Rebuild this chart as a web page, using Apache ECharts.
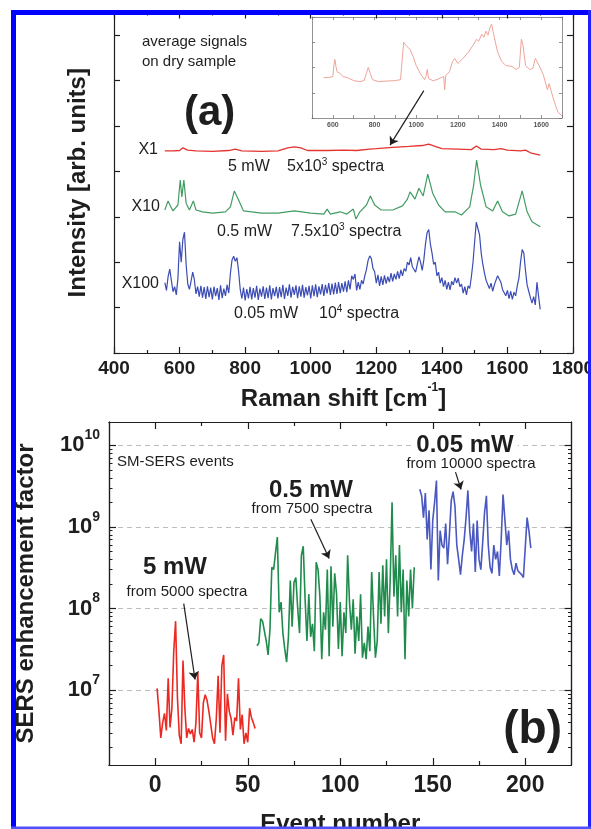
<!DOCTYPE html>
<html>
<head>
<meta charset="utf-8">
<title>SERS spectra and enhancement factors</title>
<script src="https://cdn.jsdelivr.net/npm/echarts@6.0.0/dist/echarts.min.js"></script>
<style>
  html, body { margin: 0; padding: 0; background: #fff; }
  #main { width: 591px; height: 829px; }
</style>
</head>
<body>
<div id="main"></div>
<script>
// ---- panel (a): averaged spectra, [Raman shift, intensity] (arb. units, offset per trace) ----
var spectrumX1 = [
  [555,44.5],[580,44.5],[600,44.6],[610,45.2],[615,44.9],[625,44.7],[650,44.5],[700,44.4],[750,44.6],[770,44.9],
  [790,44.5],[850,44.4],[900,44.5],[930,45.2],[950,45.4],[970,45.2],[990,44.6],[1050,44.6],[1100,44.7],[1140,44.6],
  [1180,44.9],[1200,45.0],[1250,45.3],[1300,45.5],[1340,45.7],[1360,46.0],[1375,45.6],[1400,45.0],[1450,44.9],[1490,44.8],
  [1505,45.6],[1520,44.9],[1560,44.8],[1580,45.0],[1600,44.7],[1640,44.5],[1655,44.7],[1670,44.1],[1700,43.6]
];
var spectrumX10 = [
  [555,31.5],[565,33.5],[572,32.4],[580,31.3],[595,32.6],[602,38.1],[607,34.4],[613,38.1],[620,33.0],[630,31.5],
  [642,33.5],[650,31.5],[670,31.1],[700,30.8],[740,31.1],[755,32.2],[767,35.7],[780,33.7],[795,31.3],[850,30.8],
  [900,30.8],[950,31.3],[1000,30.8],[1040,30.6],[1050,31.7],[1060,30.6],[1090,31.1],[1110,30.6],[1130,31.7],[1138,29.5],
  [1150,31.1],[1170,32.6],[1182,34.6],[1195,32.6],[1215,31.5],[1250,31.5],[1280,32.4],[1295,33.9],[1303,35.5],[1318,33.9],
  [1330,36.3],[1343,34.6],[1357,39.4],[1372,35.2],[1390,32.6],[1410,31.1],[1440,31.1],[1460,30.4],[1485,32.2],[1497,37.0],
  [1506,42.5],[1518,37.0],[1535,32.2],[1555,31.3],[1570,33.5],[1585,31.1],[1605,30.2],[1625,30.6],[1645,35.7],[1660,31.1],
  [1675,28.9],[1700,27.8]
];
var spectrumX100 = [
  [555,15.5],[560,13.8],[565,16.8],[570,18.5],[575,16.0],[580,13.5],[585,14.6],[590,12.8],[595,16.5],[600,24.5],
  [605,20.0],[610,25.0],[615,26.6],[620,19.5],[625,15.2],[630,14.0],[635,15.8],[640,17.8],[645,16.2],[650,13.0],
  [655,14.6],[660,12.4],[665,14.8],[670,12.2],[675,14.5],[680,11.9],[685,14.7],[690,12.3],[695,14.4],[700,11.8],
  [705,14.6],[710,12.5],[715,14.3],[720,11.7],[725,14.9],[730,12.1],[735,14.2],[740,12.6],[745,15.0],[750,13.2],
  [755,17.5],[760,20.5],[765,21.3],[770,20.2],[775,21.0],[780,18.0],[785,14.0],[790,12.0],[795,14.4],[800,11.6],
  [805,14.1],[810,12.0],[815,14.6],[820,11.8],[825,14.3],[830,12.2],[835,14.8],[840,11.7],[845,14.2],[850,12.4],
  [855,14.7],[860,11.9],[865,14.4],[870,12.1],[875,14.9],[880,11.8],[885,14.3],[890,12.5],[895,14.6],[900,12.0],
  [905,14.5],[910,12.3],[915,15.0],[920,11.9],[925,14.4],[930,12.6],[935,15.1],[940,12.2],[945,14.6],[950,12.8],
  [955,14.9],[960,12.1],[965,14.7],[970,12.4],[975,15.0],[980,12.2],[985,14.5],[990,12.7],[995,14.8],[1000,12.0],
  [1005,14.9],[1010,12.5],[1015,15.1],[1020,12.3],[1025,14.7],[1030,12.9],[1035,15.2],[1040,12.6],[1045,15.0],[1050,13.1],
  [1055,15.4],[1060,12.8],[1065,15.3],[1070,12.9],[1075,15.5],[1080,13.0],[1085,15.6],[1090,13.2],[1095,15.4],[1100,13.5],
  [1105,15.8],[1110,13.4],[1115,16.0],[1120,14.0],[1125,17.0],[1130,16.2],[1135,17.4],[1140,13.8],[1145,15.6],[1150,14.0],
  [1155,16.0],[1160,15.2],[1165,17.0],[1170,18.4],[1175,20.4],[1180,21.4],[1185,20.8],[1190,18.6],[1195,17.9],[1200,15.4],
  [1205,17.2],[1210,14.8],[1215,16.9],[1220,15.0],[1225,17.1],[1230,15.3],[1235,16.8],[1240,15.6],[1245,17.6],[1250,15.8],
  [1255,17.4],[1260,16.2],[1265,18.0],[1270,16.4],[1275,18.3],[1280,17.0],[1285,18.6],[1290,18.0],[1295,20.0],[1300,19.4],
  [1305,21.0],[1310,19.0],[1315,18.4],[1320,17.8],[1325,19.5],[1330,21.2],[1335,20.0],[1340,18.2],[1345,20.5],[1350,24.0],
  [1355,26.5],[1360,27.2],[1365,24.0],[1370,22.0],[1375,19.5],[1380,20.0],[1385,17.0],[1390,17.8],[1395,15.4],[1400,16.6],
  [1405,14.6],[1410,16.0],[1415,14.0],[1420,15.6],[1425,13.9],[1430,15.8],[1435,15.0],[1440,16.6],[1445,15.4],[1450,16.5],
  [1455,14.6],[1460,15.2],[1465,13.2],[1470,14.6],[1475,12.8],[1480,14.8],[1485,14.2],[1490,16.8],[1495,20.0],[1500,24.5],
  [1505,28.8],[1510,29.2],[1515,26.0],[1520,22.0],[1525,19.5],[1530,17.6],[1535,16.0],[1540,15.6],[1545,14.2],[1550,15.4],
  [1555,13.6],[1560,15.0],[1565,14.6],[1570,17.0],[1575,17.4],[1580,15.6],[1585,14.0],[1590,14.4],[1595,12.6],[1600,13.8],
  [1605,12.0],[1610,13.6],[1615,11.8],[1620,13.4],[1625,12.6],[1630,14.8],[1635,16.5],[1640,20.0],[1645,22.8],[1650,22.0],
  [1655,18.2],[1660,15.0],[1665,13.6],[1670,12.2],[1675,11.0],[1680,12.4],[1685,10.6],[1690,15.6],[1695,12.5],[1700,9.6]
];
// inset: X1 trace magnified
var insetX1 = [
  [555,40],[580,40],[600,41],[605,52],[610,58],[615,51],[620,46],[635,44],[650,41],[670,40],
  [700,37],[730,36],[750,37],[762,45],[770,50],[780,44],[790,38],[820,36],[850,36.5],[900,37],
  [925,38],[935,63],[940,75],[955,71],[970,68],[985,61],[1000,52],[1020,44],[1040,38],[1048,42],
  [1053,48],[1060,39],[1080,37],[1100,38],[1120,40],[1132,41],[1137,28],[1142,42],[1160,46],[1175,56],
  [1185,59],[1200,54],[1220,58],[1250,65],[1270,71],[1290,78],[1300,76],[1315,83],[1325,80],[1335,86],
  [1345,82],[1355,90],[1362,93],[1375,80],[1390,66],[1410,56],[1430,52],[1460,51],[1480,48],[1495,50],
  [1505,78],[1512,73],[1525,52],[1545,48],[1560,49],[1572,59],[1590,52],[1610,43],[1630,28],[1638,34],
  [1645,33],[1660,18],[1680,6],[1700,2]
];

// ---- panel (b): SERS enhancement factor per event ----
var eventStart5mW = 1;
var ef5mW = [
  1.05e7, 5.5e6, 2.6e6, 4.0e6, 5.2e6, 3.2e6, 1.4e7, 3.5e6, 6.0e6, 3.0e7,
  7.0e7, 8.0e6, 2.8e6, 2.2e6, 2.3e7, 6.0e6, 2.6e6, 3.4e6, 2.9e6, 3.3e6,
  2.3e6, 4.0e6, 1.65e7, 3.0e6, 2.6e6, 7.0e6, 8.8e6, 7.5e6, 5.5e6, 3.8e6,
  2.6e6, 2.2e6, 4.5e6, 1.5e7, 3.0e6, 2.0e7, 2.7e7, 2.4e6, 9.0e6, 5.5e6,
  4.5e6, 2.8e6, 4.6e6, 4.2e6, 1.4e7, 3.3e6, 5.0e6, 2.2e6, 3.0e6, 2.3e6,
  6.0e6, 4.6e6, 4.0e6, 3.4e6
];
var eventStart05mW = 55;
var ef05mW = [
  3.5e7, 3.8e7, 7.5e7, 7.0e7, 7.2e7, 4.0e7, 2.7e7, 5.5e7, 3.2e8, 3.0e8,
  4.8e8, 7.5e8, 9.0e7, 1.2e8, 5.0e7, 3.2e7, 2.2e7, 4.5e7, 2.2e8, 6.0e7,
  2.1e8, 2.4e8, 1.0e8, 5.0e7, 4.5e8, 5.8e8, 1.3e8, 4.0e7, 1.5e8, 4.5e7,
  6.5e7, 3.0e7, 3.7e8, 3.0e8, 1.4e8, 2.4e7, 9.0e7, 5.5e7, 3.0e8, 2.6e7,
  3.3e8, 6.0e7, 2.7e8, 1.5e8, 3.2e7, 1.2e8, 2.6e7, 9.0e7, 5.0e7, 4.5e8,
  1.2e8, 5.5e7, 1.3e8, 2.8e7, 8.0e7, 4.0e7, 1.5e8, 2.5e7, 3.8e7, 2.4e7,
  6.0e7, 3.0e7, 2.8e8, 8.0e7, 2.5e7, 4.0e7, 2.8e8, 6.5e7, 3.4e8, 8.0e7,
  4.0e8, 5.0e7, 2.2e8, 2.0e9, 1.4e8, 4.5e8, 8.0e7, 6.0e8, 9.0e7, 3.0e8,
  2.4e7, 2.2e8, 8.0e7, 3.0e8, 1.0e8, 3.2e8
];
var eventStart005mW = 143;
var ef005mW = [
  2.9e9, 2.4e9, 1.3e9, 2.6e9, 7.0e8, 1.6e9, 3.0e8, 1.2e9, 2.0e9, 3.7e9,
  2.2e8, 9.0e8, 6.0e8, 5.5e8, 1.1e9, 3.5e8, 8.0e8, 2.1e9, 2.7e9, 1.8e9,
  6.0e8, 4.0e8, 2.6e8, 4.5e8, 7.0e8, 1.3e9, 2.8e9, 9.0e8, 5.0e8, 1.1e9,
  2.8e8, 1.2e9, 4.0e8, 3.0e8, 6.5e8, 1.5e9, 2.4e9, 6.0e8, 3.2e8, 2.7e8,
  6.0e8, 4.0e8, 5.0e8, 2.5e8, 7.0e8, 2.5e9, 2.4e9, 6.0e8, 9.0e8, 4.0e8,
  3.0e8, 2.6e8, 3.6e8, 2.9e8, 2.8e8, 2.6e8, 2.4e8, 2.3e8, 1.3e9, 9.0e8,
  5.5e8
];

// tick values
var eventMajorTicks = [0, 50, 100, 150, 200];
var eventMinorTicks = [25, 75, 125, 175];
var efDecades = [1e7, 1e8, 1e9, 1e10];
var efMinorTicks = [];
[1e6, 1e7, 1e8, 1e9].forEach(function (d) {
  for (var k = 2; k <= 9; k++) efMinorTicks.push(k * d);
});

var FONT = '"Liberation Sans", Arial, Helvetica, sans-serif';
var INK = '#1e1e1e';

function toEvents(start, values) {
  return values.map(function (v, i) { return [start + i, v]; });
}

// plain frame side: line plus inward ticks, no labels
function frameAxis(o) {
  return Object.assign({
    type: 'value',
    axisLine: {show: true, onZero: false, lineStyle: {color: INK, width: 1.2}},
    axisTick: {show: true, inside: true, length: 6, lineStyle: {color: INK, width: 1.2}},
    axisLabel: {show: false},
    splitLine: {show: false}
  }, o);
}

function insetAxis(o) {
  return Object.assign({
    type: 'value',
    axisLine: {show: true, onZero: false, lineStyle: {color: '#777', width: 0.8}},
    axisTick: {show: true, inside: true, length: 3, lineStyle: {color: '#777', width: 0.8}},
    axisLabel: {show: false},
    splitLine: {show: false}
  }, o);
}

function arrow(from, to) {
  return {
    silent: true,
    symbol: ['none', 'arrow'],
    symbolSize: 8,
    label: {show: false},
    lineStyle: {color: INK, width: 1.2, type: 'solid'},
    emphasis: {disabled: true},
    data: [[{coord: from}, {coord: to}]]
  };
}

function txt(text, x, y, style) {
  return {
    type: 'text', x: x, y: y, z: 50, silent: true,
    style: Object.assign({
      text: text, fill: INK, font: '16px ' + FONT,
      align: 'left', verticalAlign: 'middle'
    }, style)
  };
}

var supRich = {
  m: {fontSize: 16, fontFamily: FONT, fill: INK},
  s: {fontSize: 10, fontFamily: FONT, fill: INK, padding: [0, 0, 10, 0]}
};

var frame = [
  {type: 'rect', z: 100, silent: true, shape: {x: 11, y: 10, width: 580, height: 5}, style: {fill: '#0000ff'}},
  {type: 'rect', z: 100, silent: true, shape: {x: 11, y: 10, width: 5, height: 819}, style: {fill: '#0000ff'}},
  {type: 'rect', z: 100, silent: true, shape: {x: 588, y: 10, width: 3, height: 819}, style: {fill: '#2020ff'}},
  {type: 'rect', z: 100, silent: true, shape: {x: 11, y: 826.5, width: 580, height: 2.5}, style: {fill: '#5050ff'}}
];

var notes = [
  txt('average signals', 142, 42, {font: '15px ' + FONT}),
  txt('on dry sample', 142, 62, {font: '15px ' + FONT}),
  txt('(a)', 184, 113, {font: 'bold 42px ' + FONT}),
  txt('X1', 158, 150, {align: 'right'}),
  txt('X10', 160, 207, {align: 'right'}),
  txt('X100', 159, 284, {align: 'right'}),
  txt('5 mW', 228, 167),
  txt('{m|5x10}{s|3}{m| spectra}', 287, 167, {rich: supRich}),
  txt('0.5 mW', 217, 232),
  txt('{m|7.5x10}{s|3}{m| spectra}', 291, 232, {rich: supRich}),
  txt('0.05 mW', 234, 314),
  txt('{m|10}{s|4}{m| spectra}', 319, 314, {rich: supRich}),

  txt('SM-SERS events', 117, 462, {font: '15px ' + FONT}),
  txt('5 mW', 175, 567, {font: 'bold 24px ' + FONT, align: 'center'}),
  txt('from 5000 spectra', 187, 592, {font: '15px ' + FONT, align: 'center'}),
  txt('0.5 mW', 311, 490, {font: 'bold 24px ' + FONT, align: 'center'}),
  txt('from 7500 spectra', 312, 509, {font: '15px ' + FONT, align: 'center'}),
  txt('0.05 mW', 465, 445, {font: 'bold 24px ' + FONT, align: 'center', backgroundColor: '#fff', padding: [0, 4]}),
  txt('from 10000 spectra', 471, 464, {font: '15px ' + FONT, align: 'center'}),
  txt('(b)', 562, 730, {font: 'bold 46px ' + FONT, align: 'right'})
];

var chart = echarts.init(document.getElementById('main'));

var option = {
  backgroundColor: '#fff',
  animation: false,
  textStyle: {fontFamily: FONT, color: INK},
  grid: [
    {left: 114, top: 12.5, width: 459, height: 340.5, containLabel: false, outerBoundsMode: 'none'},
    {left: 312, top: 17, width: 250, height: 101, containLabel: false, outerBoundsMode: 'none'},
    {left: 109, top: 422, width: 462.5, height: 343, containLabel: false, outerBoundsMode: 'none'}
  ],
  xAxis: [
    frameAxis({
      gridIndex: 0, position: 'bottom', min: 400, max: 1800, interval: 200,
      minorTick: {show: true, splitNumber: 2, length: 3, lineStyle: {color: INK, width: 1.2}},
      axisLabel: {
        show: true, margin: 6, color: INK, fontFamily: FONT, fontSize: 19, fontWeight: 'bold',
        formatter: function (v) { return String(v); }
      },
      name: '{t|Raman shift [cm}{s|-1}{t|]}', nameLocation: 'middle', nameGap: 29,
      nameTextStyle: {
        rich: {
          t: {fontSize: 24, fontWeight: 'bold', fontFamily: FONT, color: INK},
          s: {fontSize: 12, fontWeight: 'bold', fontFamily: FONT, color: INK, padding: [0, 0, 22, 0]}
        }
      }
    }),
    frameAxis({
      gridIndex: 0, position: 'top', min: 400, max: 1800, interval: 200,
      minorTick: {show: true, splitNumber: 2, length: 3, lineStyle: {color: INK, width: 1.2}}
    }),
    insetAxis({
      gridIndex: 1, position: 'bottom', min: 500, max: 1700, interval: 100,
      axisLabel: {
        show: true, interval: 0, margin: 4, fontSize: 7, fontWeight: 'bold', color: '#555', fontFamily: FONT,
        formatter: function (v) { return v % 200 === 0 ? String(v) : ''; }
      }
    }),
    insetAxis({gridIndex: 1, position: 'top', min: 500, max: 1700, interval: 100}),
    frameAxis({
      gridIndex: 2, position: 'bottom', min: -25, max: 225,
      axisTick: {show: true, inside: true, length: 7, customValues: eventMajorTicks, lineStyle: {color: INK, width: 1.2}},
      axisLabel: {show: true, customValues: eventMajorTicks, margin: 9, color: INK, fontFamily: FONT, fontSize: 23, fontWeight: 'bold'},
      name: 'Event number', nameLocation: 'middle', nameGap: 47,
      nameTextStyle: {fontSize: 24, fontWeight: 'bold', color: INK, fontFamily: FONT}
    }),
    frameAxis({
      gridIndex: 2, position: 'top', min: -25, max: 225,
      axisTick: {show: true, inside: true, length: 7, customValues: eventMajorTicks, lineStyle: {color: INK, width: 1.2}}
    }),
    frameAxis({
      gridIndex: 2, position: 'bottom', min: -25, max: 225,
      axisTick: {show: true, inside: true, length: 4, customValues: eventMinorTicks, lineStyle: {color: INK, width: 1.2}}
    }),
    frameAxis({
      gridIndex: 2, position: 'top', min: -25, max: 225,
      axisTick: {show: true, inside: true, length: 4, customValues: eventMinorTicks, lineStyle: {color: INK, width: 1.2}}
    })
  ],
  yAxis: [
    frameAxis({
      gridIndex: 0, position: 'left', min: 0, max: 75, interval: 10,
      name: 'Intensity [arb. units]', nameLocation: 'middle', nameGap: 24, nameRotate: 90,
      nameTextStyle: {fontSize: 24, fontWeight: 'bold', color: INK, fontFamily: FONT}
    }),
    frameAxis({gridIndex: 0, position: 'right', min: 0, max: 75, interval: 10}),
    insetAxis({gridIndex: 1, position: 'left', min: 0, max: 100, interval: 25}),
    insetAxis({gridIndex: 1, position: 'right', min: 0, max: 100, interval: 25}),
    frameAxis({
      gridIndex: 2, type: 'log', logBase: 10, position: 'left', min: 1.21e6, max: 1.93e10,
      axisTick: {show: true, inside: true, length: 7, customValues: efDecades, lineStyle: {color: INK, width: 1.2}},
      axisLabel: {
        show: true, customValues: efDecades, margin: 9,
        formatter: function (v) { return '{b|10}{s|' + Math.round(Math.log10(v)) + '}'; },
        rich: {
          b: {fontSize: 22, fontWeight: 'bold', fontFamily: FONT, color: INK},
          s: {fontSize: 14, fontWeight: 'bold', fontFamily: FONT, color: INK, padding: [0, 0, 20, 0]}
        }
      },
      splitLine: {show: true, lineStyle: {color: '#bdbdbd', width: 1, type: [5, 4]}},
      name: 'SERS enhancement factor', nameLocation: 'middle', nameGap: 71, nameRotate: 90,
      nameTextStyle: {fontSize: 24, fontWeight: 'bold', color: INK, fontFamily: FONT}
    }),
    frameAxis({
      gridIndex: 2, type: 'log', logBase: 10, position: 'left', min: 1.21e6, max: 1.93e10,
      axisTick: {show: true, inside: true, length: 3.5, customValues: efMinorTicks, lineStyle: {color: INK, width: 1}}
    }),
    frameAxis({
      gridIndex: 2, type: 'log', logBase: 10, position: 'right', min: 1.21e6, max: 1.93e10,
      axisTick: {show: true, inside: true, length: 7, customValues: efDecades, lineStyle: {color: INK, width: 1.2}}
    }),
    frameAxis({
      gridIndex: 2, type: 'log', logBase: 10, position: 'right', min: 1.21e6, max: 1.93e10,
      axisTick: {show: true, inside: true, length: 3.5, customValues: efMinorTicks, lineStyle: {color: INK, width: 1}}
    })
  ],
  series: [
    {
      name: 'X1', type: 'line', xAxisIndex: 0, yAxisIndex: 0, data: spectrumX1,
      showSymbol: false, symbol: 'none', lineStyle: {color: '#e3342f', width: 1.3},
      markLine: arrow([1345, 57.8], [1242, 45.8])
    },
    {
      name: 'X10', type: 'line', xAxisIndex: 0, yAxisIndex: 0, data: spectrumX10,
      showSymbol: false, symbol: 'none', lineStyle: {color: '#429c63', width: 1.2}
    },
    {
      name: 'X100', type: 'line', xAxisIndex: 0, yAxisIndex: 0, data: spectrumX100,
      showSymbol: false, symbol: 'none', lineStyle: {color: '#3b4cb4', width: 1.2}
    },
    {
      name: 'inset', type: 'line', xAxisIndex: 2, yAxisIndex: 2, data: insetX1,
      showSymbol: false, symbol: 'none', lineStyle: {color: '#f0a49a', width: 1}
    },
    {
      name: '5 mW', type: 'line', xAxisIndex: 4, yAxisIndex: 4, data: toEvents(eventStart5mW, ef5mW),
      showSymbol: false, symbol: 'none', lineStyle: {color: '#ea2a22', width: 1.6},
      markLine: arrow([15.4, 1.15e8], [21.5, 1.35e7])
    },
    {
      name: '0.5 mW', type: 'line', xAxisIndex: 4, yAxisIndex: 4, data: toEvents(eventStart05mW, ef05mW),
      showSymbol: false, symbol: 'none', lineStyle: {color: '#1f8b4c', width: 1.6},
      markLine: arrow([84.1, 1.24e9], [94, 4.1e8])
    },
    {
      name: '0.05 mW', type: 'line', xAxisIndex: 4, yAxisIndex: 4, data: toEvents(eventStart005mW, ef005mW),
      showSymbol: false, symbol: 'none', lineStyle: {color: '#4a58bf', width: 1.6},
      markLine: arrow([162.3, 4.7e9], [165.3, 2.87e9])
    }
  ],
  graphic: {elements: notes.concat(frame)}
};

chart.setOption(option);
</script>
</body>
</html>
